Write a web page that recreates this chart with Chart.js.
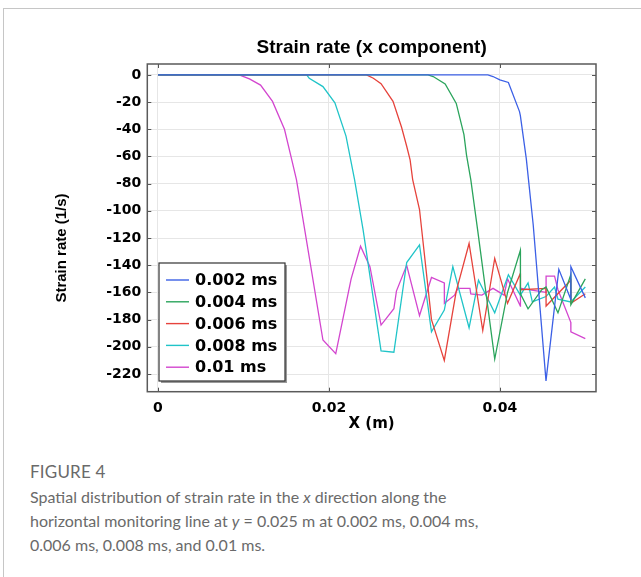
<!DOCTYPE html>
<html>
<head>
<meta charset="utf-8">
<script src="https://cdn.jsdelivr.net/npm/chart.js@4.4.0/dist/chart.umd.min.js"></script>
<style>
body{margin:0;background:#fff;width:641px;height:577px;overflow:hidden;position:relative;font-family:Lato,sans-serif}
#box{position:absolute;left:3px;top:8px;width:700px;height:620px;border-left:1px solid #c6c6c6;border-top:1px solid #c6c6c6}
#wrap{position:absolute;left:0;top:0;width:641px;height:440px}
#fig{position:absolute;left:30px;top:461px;color:#6a6a6a;font-size:17px;letter-spacing:0.2px}
#cap{position:absolute;left:30px;top:485px;color:#6a6a6a;font-size:16px;line-height:24px;white-space:nowrap}
</style>
</head>
<body>
<div id="box"></div>
<div id="wrap"><canvas id="c" width="641" height="440"></canvas></div>
<div id="fig">FIGURE 4</div>
<div id="cap">Spatial distribution of strain rate in the <i>x</i> direction along the<br>horizontal monitoring line at <i>y</i> = 0.025 m at 0.002 ms, 0.004 ms,<br>0.006 ms, 0.008 ms, and 0.01 ms.</div>
<script>
// series labels
const labels = ['0.002 ms', '0.004 ms', '0.006 ms', '0.008 ms', '0.01 ms'];
const colors = ['#3c60e6', '#2ba45c', '#e6433c', '#20c4c8', '#d346cf'];

// X (m) and strain rate (1/s)
const x002 = [0, 0.0386, 0.0392, 0.0400, 0.0410, 0.0423, 0.0424, 0.0431, 0.0439, 0.0454, 0.0469, 0.0483, 0.04831, 0.0500];
const y002 = [0, 0, -1.2, -3.7, -5.6, -27, -30, -62, -110, -225, -143, -165, -141, -164];

const x004 = [0, 0.0316, 0.0322, 0.0336, 0.0349, 0.0358, 0.0361, 0.0366, 0.0374, 0.0394, 0.0409, 0.0424, 0.04241, 0.0433, 0.0449, 0.0454, 0.0468, 0.0483, 0.04831, 0.0500];
const y004 = [0, 0, -1.2, -6.6, -21, -44, -59, -77, -114, -209, -160, -129, -161, -172, -158, -156, -175, -147, -169, -150];

const x006 = [0, 0.0244, 0.0252, 0.0261, 0.0275, 0.0285, 0.0291, 0.0295, 0.0298, 0.0306, 0.0320, 0.0335, 0.0349, 0.0364, 0.0380, 0.0394, 0.0409, 0.0424, 0.04241, 0.0454, 0.04541, 0.0483, 0.04831, 0.0500];
const y006 = [0, 0, -2.5, -6.5, -19.5, -38.5, -52.5, -62.5, -77, -99, -180, -210, -159, -124, -188, -135, -168, -146, -158, -157, -170, -151, -168, -161];

const x008 = [0, 0.0174, 0.0177, 0.0193, 0.0207, 0.0220, 0.0230, 0.0240, 0.0261, 0.0276, 0.0291, 0.0306, 0.0320, 0.0335, 0.0345, 0.0364, 0.0375, 0.0394, 0.0410, 0.0424, 0.0433, 0.0438, 0.0454, 0.0464, 0.0468, 0.0483, 0.0500];
const y008 = [0, 0, -2.5, -8.6, -20.5, -45, -77, -114, -203, -204, -138, -125, -189, -173, -141, -186, -151, -175, -147, -162, -153, -167, -163, -156, -165, -167, -156];

const x010 = [0, 0.0095, 0.0107, 0.0120, 0.0134, 0.0148, 0.0156, 0.0162, 0.0193, 0.0208, 0.0226, 0.0237, 0.0248, 0.0261, 0.0276, 0.0279, 0.0291, 0.0306, 0.0320, 0.0335, 0.03351, 0.0347, 0.0351, 0.0365, 0.0366, 0.0379, 0.0392, 0.0405, 0.0409, 0.0424, 0.04241, 0.0454, 0.04541, 0.0464, 0.0468, 0.0483, 0.04831, 0.0500];
const y010 = [0, 0, -3, -7.5, -19.5, -40, -61, -77, -195, -205, -150, -126, -141, -184, -172, -159, -140, -177, -149, -153, -168, -162, -157, -157, -161, -162, -157, -162, -150, -170, -157, -160, -148, -148, -158, -182, -189, -194];

const xs = [x002, x004, x006, x008, x010];
const ys = [y002, y004, y006, y008, y010];

const tickFont = {family: '"DejaVu Sans"', weight: 'bold', size: 14};

// frame, inward ticks, titles and legend drawn over the plot
const extras = {
    id: 'extras',
    afterDatasetsDraw(chart) {
        const {ctx, chartArea: a, scales: {x, y}} = chart;
        ctx.save();
        ctx.strokeStyle = '#555';
        ctx.lineWidth = 1;
        ctx.beginPath();
        x.ticks.forEach(t => {
            const p = Math.round(x.getPixelForValue(t.value)) + 0.5;
            ctx.moveTo(p, a.bottom); ctx.lineTo(p, a.bottom - 4);
            ctx.moveTo(p, a.top); ctx.lineTo(p, a.top + 4);
        });
        y.ticks.forEach(t => {
            const p = Math.round(y.getPixelForValue(t.value)) + 0.5;
            ctx.moveTo(a.left, p); ctx.lineTo(a.left + 4, p);
            ctx.moveTo(a.right, p); ctx.lineTo(a.right - 4, p);
        });
        ctx.stroke();
        ctx.lineWidth = 1.5;
        ctx.strokeStyle = '#5a5a5a';
        ctx.strokeRect(a.left, a.top, a.width, a.height);

        // titles
        ctx.fillStyle = '#000';
        ctx.font = 'bold 19px "Liberation Sans", Arial';
        ctx.textAlign = 'center';
        ctx.textBaseline = 'middle';
        ctx.fillText('Strain rate (x component)', (a.left + a.right) / 2, 48);
        ctx.font = 'bold 15px "Liberation Sans", Arial';
        ctx.translate(62, 248);
        ctx.rotate(-Math.PI / 2);
        ctx.fillText('Strain rate (1/s)', 0, 0);
        ctx.setTransform(1, 0, 0, 1, 0, 0);

        // legend
        const L = 159, T = 263, W = 126, H = 118;
        ctx.fillStyle = '#9a9a9a';
        ctx.fillRect(L + 2, T + 2, W, H);
        ctx.fillStyle = '#fff';
        ctx.fillRect(L, T, W, H);
        ctx.strokeStyle = '#333';
        ctx.lineWidth = 1.2;
        ctx.strokeRect(L, T, W, H);
        ctx.font = 'bold 16px "DejaVu Sans"';
        ctx.textAlign = 'left';
        chart.data.datasets.forEach((ds, i) => {
            const cy = 280 + i * 21.8;
            ctx.strokeStyle = ds.borderColor;
            ctx.lineWidth = 1.4;
            ctx.beginPath();
            ctx.moveTo(166, cy); ctx.lineTo(189, cy);
            ctx.stroke();
            ctx.fillStyle = '#000';
            ctx.fillText(ds.label, 195, cy + 1);
        });
        ctx.restore();
    }
};

new Chart(document.getElementById('c'), {
    type: 'line',
    data: {
        datasets: labels.map((l, i) => ({
            label: l,
            data: xs[i].map((v, j) => ({x: v, y: ys[i][j]})),
            borderColor: colors[i],
            borderWidth: 1.3,
            pointRadius: 0,
            tension: 0,
            fill: false
        }))
    },
    options: {
        responsive: false,
        animation: false,
        layout: {padding: {left: 54, top: 64, right: 45, bottom: 7}},
        plugins: {legend: {display: false}, title: {display: false}, tooltip: {enabled: false}},
        scales: {
            x: {
                type: 'linear',
                min: -0.00125, max: 0.05125,
                afterFit: s => { s.height = 440 - 7 - 391.7; },
                grid: {color: '#e6e6e6', drawTicks: false},
                border: {display: false},
                ticks: {
                    stepSize: 0.02, includeBounds: false, padding: 8, color: '#000',
                    font: tickFont,
                    callback: v => v === 0 ? '0' : v.toFixed(2)
                },
                title: {display: true, text: 'X (m)', color: '#000', padding: 0,
                    font: {family: '"DejaVu Sans"', weight: 'bold', size: 15}}
            },
            y: {
                min: -233, max: 8,
                afterFit: s => { s.width = 147.3 - 54; },
                grid: {color: '#e6e6e6', drawTicks: false},
                border: {display: false},
                ticks: {
                    stepSize: 20, includeBounds: false, padding: 6, color: '#000',
                    font: tickFont
                },
                title: {display: false}
            }
        }
    },
    plugins: [extras]
});
</script>
</body>
</html>
